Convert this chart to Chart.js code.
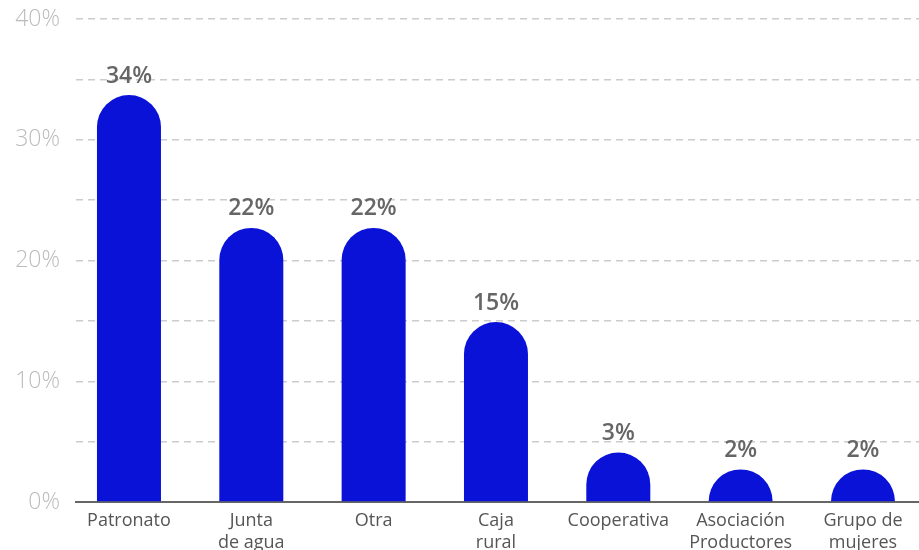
<!DOCTYPE html>
<html>
<head>
<meta charset="utf-8">
<script src="https://cdn.jsdelivr.net/npm/chart.js@4"></script>
<style>
  html, body { margin: 0; padding: 0; background: #fff; overflow: hidden; }
  #wrap { width: 919px; height: 550px; }
</style>
</head>
<body>
<div id="wrap"><canvas id="chart"></canvas></div>
<script>
// Data
const categories = [['Patronato'], ['Junta', 'de agua'], ['Otra'], ['Caja', 'rural'], ['Cooperativa'], ['Asociación', 'Productores'], ['Grupo de', 'mujeres']];
const shares = [33.7, 22.7, 22.7, 14.9, 4.1, 2.7, 2.7];
const shareLabels = ['34%', '22%', '22%', '15%', '3%', '2%', '2%'];
const yTicks = [0, 10, 20, 30, 40];

const barColor = '#0a12d8';

// draws the bars with a rounded (half circle) top
const roundTopBars = {
    id: 'roundTopBars',
    beforeDatasetDraw(chart, args) {
        const ctx = chart.ctx;
        ctx.save();
        ctx.fillStyle = barColor;
        args.meta.data.forEach(function(bar) {
            const r = bar.width / 2;
            const top = bar.y;
            const base = bar.base;
            ctx.beginPath();
            ctx.moveTo(bar.x - r, base);
            ctx.lineTo(bar.x - r, Math.min(base, top + r));
            ctx.arc(bar.x, top + r, r, Math.PI, 0);
            ctx.lineTo(bar.x + r, base);
            ctx.closePath();
            ctx.fill();
        });
        ctx.restore();
        return false;
    },
    afterDatasetsDraw(chart) {
        const ctx = chart.ctx;
        const meta = chart.getDatasetMeta(0);
        ctx.save();
        ctx.font = '600 23px "Open Sans"';
        ctx.fillStyle = '#666';
        ctx.textAlign = 'center';
        ctx.textBaseline = 'middle';
        meta.data.forEach(function(bar, i) {
            ctx.fillText(shareLabels[i], bar.x, bar.y - 19);
        });
        ctx.restore();
    }
};

new Chart(document.getElementById('chart'), {
    type: 'bar',
    data: {
        datasets: [{
            data: shares.map(function(v, i) { return { x: i, y: v }; }),
            backgroundColor: barColor,
            barThickness: 64
        }]
    },
    options: {
        responsive: true,
        maintainAspectRatio: false,
        animation: false,
        layout: { padding: { top: 19, right: 0, left: 0, bottom: 0 } },
        plugins: {
            legend: { display: false },
            tooltip: { enabled: false }
        },
        scales: {
            x: {
                type: 'linear',
                offset: false,
                min: -0.433,
                max: 6.458,
                grid: { display: false },
                border: { display: true, color: '#666', width: 2 },
                afterBuildTicks: function(scale) {
                    scale.ticks = categories.map(function(c, i) { return { value: i }; });
                },
                afterFit: function(scale) { scale.height = 48; },
                ticks: {
                    autoSkip: false,
                    maxRotation: 0,
                    padding: 0,
                    color: '#555',
                    font: { family: '"Open Sans"', size: 18, lineHeight: 1.2 },
                    callback: function(v) { return categories[v]; }
                }
            },
            y: {
                min: 0,
                max: 40,
                grid: {
                    color: '#ccc',
                    lineWidth: 1.5,
                    drawTicks: false
                },
                border: { display: false, dash: [7, 5] },
                afterFit: function(scale) {
                    scale.width = 76;
                    scale.paddingTop = 0;
                    scale.paddingBottom = 0;
                },
                ticks: {
                    stepSize: 5,
                    padding: 16,
                    color: '#bbb',
                    font: { family: '"Open Sans"', size: 23, weight: 300 },
                    callback: function(v) { return yTicks.indexOf(v) >= 0 ? v + '%' : ''; }
                }
            }
        }
    },
    plugins: [roundTopBars]
});
</script>
</body>
</html>
